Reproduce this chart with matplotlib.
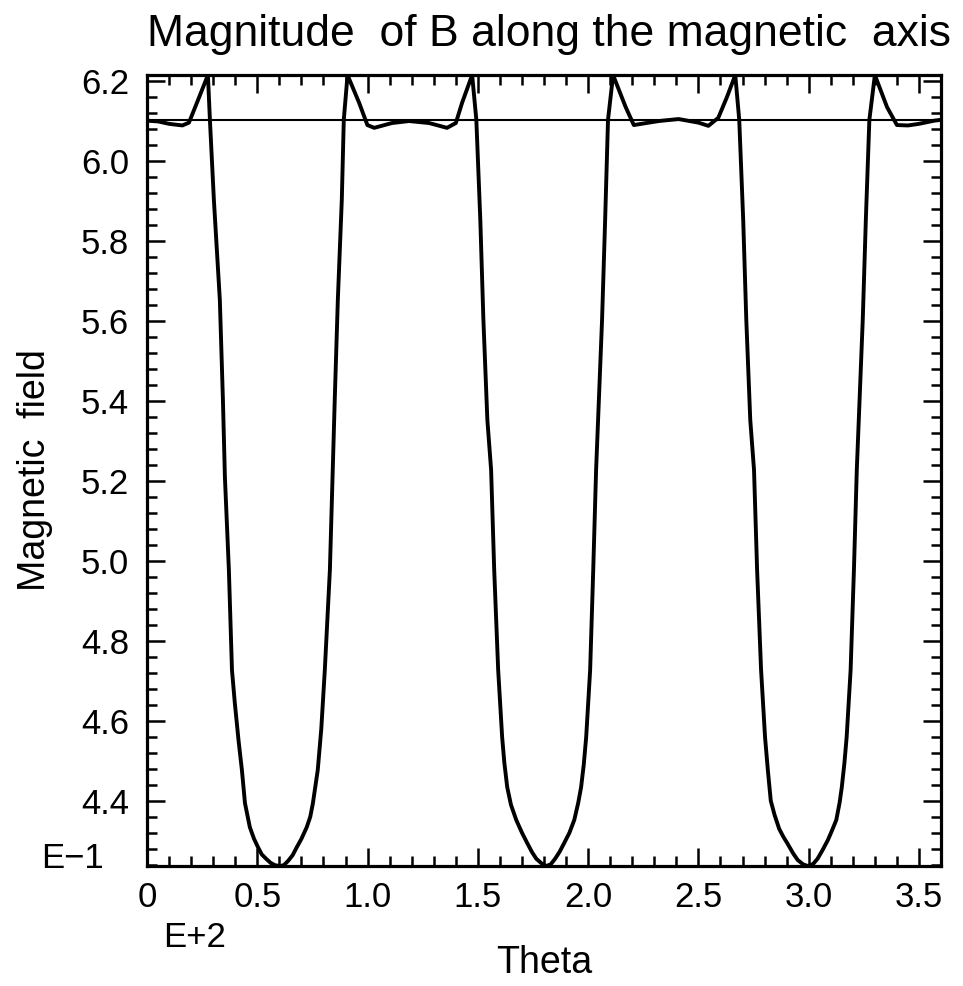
import matplotlib
matplotlib.use("Agg")
import matplotlib.pyplot as plt
from matplotlib.ticker import MultipleLocator

plt.rcParams["font.family"] = ["Liberation Sans", "DejaVu Sans"]

# theta (E+2) and |B| (E-1)
theta = [
    0.00, 0.05, 0.10, 0.16, 0.19, 0.23, 0.276,
    0.285, 0.303, 0.330, 0.344, 0.353, 0.371, 0.385, 0.398, 0.415, 0.430,
    0.444, 0.466, 0.485, 0.503, 0.520, 0.540, 0.560, 0.580, 0.602, 0.620,
    0.640, 0.660, 0.679, 0.700, 0.724, 0.740, 0.752, 0.774, 0.790, 0.806,
    0.829, 0.842, 0.851, 0.865, 0.883, 0.892, 0.909,
    0.962, 0.999, 1.030, 1.110, 1.188, 1.279, 1.360, 1.400, 1.428, 1.474,
    1.493, 1.511, 1.525, 1.543, 1.560, 1.574, 1.592, 1.610, 1.620, 1.633,
    1.650, 1.674, 1.700, 1.724, 1.745, 1.765, 1.790, 1.810, 1.830, 1.850,
    1.870, 1.891, 1.915, 1.937, 1.955, 1.968, 1.980, 1.991, 2.009, 2.023,
    2.036, 2.045, 2.063, 2.077, 2.090, 2.113,
    2.170, 2.207, 2.320, 2.410, 2.500, 2.545, 2.590, 2.630, 2.667,
    2.685, 2.703, 2.717, 2.735, 2.752, 2.766, 2.784, 2.802, 2.815, 2.828,
    2.845, 2.866, 2.885, 2.905, 2.930, 2.950, 2.975, 2.996, 3.020, 3.040,
    3.062, 3.087, 3.105, 3.125, 3.140, 3.150, 3.162, 3.172, 3.190, 3.205,
    3.218, 3.227, 3.245, 3.259, 3.275, 3.300,
    3.355, 3.400, 3.450, 3.500, 3.570, 3.600,
]
b_field = [
    6.100, 6.098, 6.092, 6.088, 6.095, 6.150, 6.214,
    6.102, 5.902, 5.652, 5.402, 5.209, 4.977, 4.727, 4.644, 4.550, 4.477,
    4.394, 4.334, 4.305, 4.284, 4.266, 4.255, 4.245, 4.239, 4.237, 4.239,
    4.250, 4.264, 4.284, 4.305, 4.334, 4.360, 4.394, 4.477, 4.580, 4.727,
    4.977, 5.227, 5.402, 5.652, 5.902, 6.102, 6.214,
    6.144, 6.089, 6.082, 6.094, 6.099, 6.094, 6.082, 6.094, 6.144, 6.214,
    6.102, 5.852, 5.602, 5.352, 5.227, 4.977, 4.727, 4.559, 4.495, 4.434,
    4.390, 4.352, 4.320, 4.294, 4.272, 4.255, 4.243, 4.237, 4.241, 4.255,
    4.272, 4.294, 4.320, 4.352, 4.395, 4.434, 4.490, 4.559, 4.727, 4.977,
    5.227, 5.352, 5.602, 5.852, 6.102, 6.214,
    6.134, 6.089, 6.099, 6.104, 6.095, 6.087, 6.107, 6.160, 6.214,
    6.102, 5.852, 5.602, 5.352, 5.227, 4.977, 4.727, 4.559, 4.475, 4.400,
    4.365, 4.330, 4.310, 4.292, 4.268, 4.252, 4.241, 4.237, 4.242, 4.255,
    4.276, 4.302, 4.325, 4.352, 4.395, 4.434, 4.495, 4.559, 4.727, 4.977,
    5.227, 5.352, 5.602, 5.852, 6.102, 6.214,
    6.134, 6.089, 6.088, 6.092, 6.100, 6.102,
]
b_ref = 6.102

x_ticks = [0, 0.5, 1.0, 1.5, 2.0, 2.5, 3.0, 3.5]
x_labels = ["0", "0.5", "1.0", "1.5", "2.0", "2.5", "3.0", "3.5"]
y_ticks = [4.4, 4.6, 4.8, 5.0, 5.2, 5.4, 5.6, 5.8, 6.0, 6.2]
y_labels = ["4.4", "4.6", "4.8", "5.0", "5.2", "5.4", "5.6", "5.8", "6.0", "6.2"]

fig = plt.figure(figsize=(9.63, 9.86), dpi=100)
ax = fig.add_axes([0.1527, 0.1217, 0.8245, 0.8022])

ax.plot(theta, b_field, color="black", lw=2.8, solid_joinstyle="round")
ax.axhline(b_ref, color="black", lw=1.5)

ax.set_xlim(0, 3.6)
ax.set_ylim(min(b_field), max(b_field))

ax.set_xticks(x_ticks)
ax.set_xticklabels(x_labels)
ax.set_yticks(y_ticks)
ax.set_yticklabels(y_labels)
ax.xaxis.set_minor_locator(MultipleLocator(0.1))
ax.yaxis.set_minor_locator(MultipleLocator(0.04))

ax.tick_params(which="both", direction="in", top=True, right=True, width=1.8,
               labelsize=25, colors="black")
ax.tick_params(which="major", length=13)
ax.tick_params(which="minor", length=7)
ax.tick_params(axis="x", pad=11)
ax.tick_params(axis="y", pad=13)
for s in ax.spines.values():
    s.set_linewidth(2.3)

ax.set_xlabel("Theta", fontsize=27, labelpad=22)
ax.set_ylabel("Magnetic  field", fontsize=27, labelpad=20)

ax.text(-0.055, 0.01, "E\u22121", transform=ax.transAxes, ha="right",
        va="center", fontsize=25)
ax.text(0.02, -0.09, "E+2", transform=ax.transAxes, ha="left",
        va="center", fontsize=25)

fig.text(0.57, 0.953, "Magnitude  of B along the magnetic  axis",
         ha="center", va="baseline", fontsize=32)

fig.savefig("out.png", dpi=100)
